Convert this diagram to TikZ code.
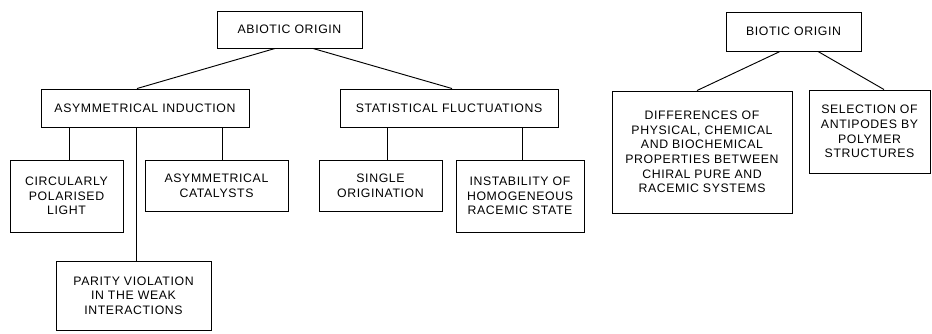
\documentclass[tikz,border=0pt]{standalone}
\usepackage{fontspec}
\newfontfamily\boxfont{Liberation Sans}[LetterSpace=5]
\usetikzlibrary{calc}

\begin{document}
\begin{tikzpicture}[
    x=0.03cm, y=-0.03cm,
    box/.style={
        rectangle,
        draw=black,
        line width=0.8pt,
        align=center,
        inner sep=0pt,
        font=\boxfont\fontsize{10.5pt}{12.4pt}\selectfont
    },
    link/.style={line width=0.8pt, black}
]
\useasboundingbox (0,0) rectangle (932,333);

% abiotic branch
\node[box, minimum width=4.35cm, minimum height=1.11cm] (abiotic) at (289.5,29.5) {ABIOTIC ORIGIN};
\node[box, minimum width=6.24cm, minimum height=1.14cm] (induction) at (145,108) {ASYMMETRICAL INDUCTION};
\node[box, minimum width=6.54cm, minimum height=1.14cm] (fluct) at (449,108) {STATISTICAL FLUCTUATIONS};

\node[box, minimum width=3.39cm, minimum height=2.16cm] (light) at (66.5,196) {CIRCULARLY\\POLARISED\\LIGHT};
\node[box, minimum width=4.29cm, minimum height=1.53cm] (catalysts) at (216.5,185.5) {ASYMMETRICAL\\CATALYSTS};
\node[box, minimum width=4.65cm, minimum height=2.07cm] (parity) at (133.5,295.5) {PARITY VIOLATION\\IN THE WEAK\\INTERACTIONS};
\node[box, minimum width=3.69cm, minimum height=1.53cm] (single) at (380.5,185.5) {SINGLE\\ORIGINATION};
\node[box, minimum width=3.84cm, minimum height=2.16cm] (instab) at (520,196) {INSTABILITY OF\\HOMOGENEOUS\\RACEMIC STATE};

% biotic branch
\node[box, minimum width=4.05cm, minimum height=1.17cm] (biotic) at (793.5,31.5) {BIOTIC ORIGIN};
\node[box, minimum width=5.4cm, minimum height=3.66cm] (diff) at (702,152) {DIFFERENCES OF\\PHYSICAL, CHEMICAL\\AND BIOCHEMICAL\\PROPERTIES BETWEEN\\CHIRAL PURE AND\\RACEMIC SYSTEMS};
\node[box, minimum width=3.63cm, minimum height=2.49cm] (select) at (869.5,131.5) {SELECTION OF\\ANTIPODES BY\\POLYMER\\STRUCTURES};

% connectors
\draw[link] ($(abiotic.south)+(-14.5,0)$) -- ($(induction.north)+(-8,0)$);
\draw[link] ($(abiotic.south)+(23.5,0)$) -- ($(fluct.north)+(3,0)$);
\draw[link] ([xshift=0.08cm]light.north) -- ([xshift=0.08cm]light.north |- induction.south);
\draw[link] ([xshift=0.08cm]parity.north) -- ([xshift=0.08cm]parity.north |- induction.south);
\draw[link] ([xshift=0.17cm]catalysts.north) -- ([xshift=0.17cm]catalysts.north |- induction.south);
\draw[link] ([xshift=0.22cm]single.north) -- ([xshift=0.22cm]single.north |- fluct.south);
\draw[link] ([xshift=0.06cm]instab.north) -- ([xshift=0.06cm]instab.north |- fluct.south);
\draw[link] ($(biotic.south)+(-13.5,0)$) -- ($(diff.north)+(-5,0)$);
\draw[link] ($(biotic.south)+(24.5,0)$) -- ($(select.north)+(14.5,0)$);

\end{tikzpicture}
\end{document}
